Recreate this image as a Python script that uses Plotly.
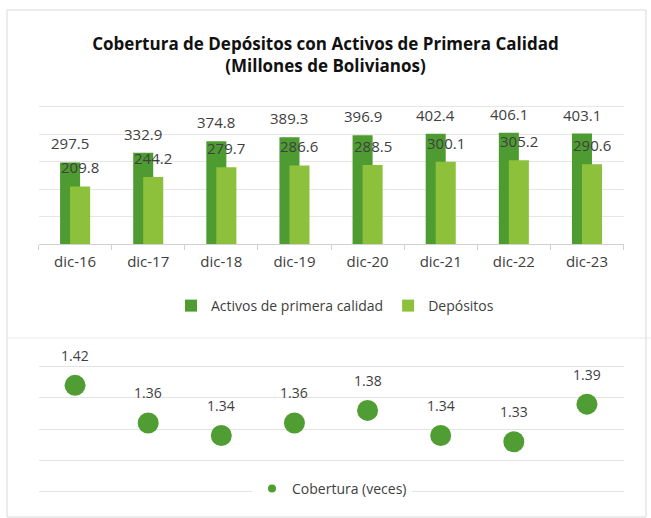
import plotly.graph_objects as go

categories = ['dic-16', 'dic-17', 'dic-18', 'dic-19', 'dic-20', 'dic-21', 'dic-22', 'dic-23']
activos = [297.5, 332.9, 374.8, 389.3, 396.9, 402.4, 406.1, 403.1]
depositos = [209.8, 244.2, 279.7, 286.6, 288.5, 300.1, 305.2, 290.6]
cobertura = [1.42, 1.36, 1.34, 1.36, 1.38, 1.34, 1.33, 1.39]
bar_ticks = [0, 100, 200, 300, 400, 500]
cob_ticks = [1.25, 1.30, 1.35, 1.40, 1.45]

W, H = 651, 518
DARK = '#4E9C31'
LIGHT = '#8DC13C'
DOT = '#4F9D33'
FONT = 'Open Sans'

def px(x):
    return x / W

def py(y):
    return 1 - y / H

fig = go.Figure()

fig.add_trace(go.Bar(
    x=categories, y=activos, name='Activos de primera calidad',
    marker=dict(color=DARK, line=dict(width=0)),
    width=0.274, offset=-0.205, xaxis='x', yaxis='y', legend='legend',
    hoverinfo='skip'))
fig.add_trace(go.Bar(
    x=categories, y=depositos, name='Depósitos',
    marker=dict(color=LIGHT, line=dict(width=0)),
    width=0.274, offset=-0.068, xaxis='x', yaxis='y', legend='legend',
    hoverinfo='skip'))

fig.add_trace(go.Scatter(
    x=categories, y=cobertura, mode='markers', name='Cobertura (veces)',
    marker=dict(color=DOT, size=21, line=dict(width=0)),
    xaxis='x2', yaxis='y2', showlegend=False, hoverinfo='skip'))
# legend entry with a small dot, as in the reference
fig.add_trace(go.Scatter(
    x=[None], y=[None], mode='markers', name='Cobertura (veces)',
    marker=dict(color=DOT, size=8), xaxis='x2', yaxis='y2', legend='legend2'))

annotations = []
for c, a, d in zip(categories, activos, depositos):
    annotations.append(dict(x=c, y=a, xref='x', yref='y', text=f'{a:.1f}', showarrow=False,
                            xshift=-5, yshift=19, yanchor='middle',
                            font=dict(family=FONT, size=15, color='#404040')))
    annotations.append(dict(x=c, y=d, xref='x', yref='y', text=f'{d:.1f}', showarrow=False,
                            xshift=5, yshift=19, yanchor='middle',
                            font=dict(family=FONT, size=15, color='#404040')))
for c, v in zip(categories, cobertura):
    annotations.append(dict(x=c, y=v, xref='x2', yref='y2', text=f'{v:.2f}', showarrow=False,
                            yshift=30, yanchor='middle',
                            font=dict(family=FONT, size=14, color='#404040')))

xdom = [px(38.5), px(623.5)]

fig.update_layout(
    width=W, height=H, autosize=False,
    margin=dict(l=0, r=0, t=0, b=0),
    paper_bgcolor='white', plot_bgcolor='white',
    barmode='overlay',
    font=dict(family=FONT, color='#404040'),
    title=dict(text='<b>Cobertura de Depósitos con Activos de Primera Calidad<br>(Millones de Bolivianos)</b>',
               x=0.5, xanchor='center', y=py(50), yanchor='middle',
               font=dict(family=FONT, size=17, color='#111111')),
    xaxis=dict(domain=xdom, anchor='y', type='category', range=[-0.5, 7.5],
               showgrid=False, showline=True, linecolor='#D0D0D0', linewidth=1,
               ticks='outside', tickson='boundaries', ticklen=5, tickcolor='#D0D0D0',
               tickfont=dict(family=FONT, size=15, color='#404040'), ticklabelstandoff=4),
    yaxis=dict(domain=[py(244), py(105.6)], anchor='x', range=[0, 505],
               tickmode='array', tickvals=bar_ticks,
               showticklabels=False, showgrid=True, gridcolor='#E6E6E6', gridwidth=1,
               zeroline=False, showline=False),
    xaxis2=dict(domain=xdom, anchor='y2', type='category', range=[-0.5, 7.5],
                showgrid=False, showline=False, showticklabels=False, ticks=''),
    yaxis2=dict(domain=[py(495.1), py(363.4)], anchor='x2', range=[1.245, 1.455],
                tickmode='array', tickvals=cob_ticks,
                showticklabels=False, showgrid=True, gridcolor='#E3E3E3', gridwidth=1,
                zeroline=False, showline=False),
    legend=dict(orientation='h', x=px(335), xanchor='center', y=py(306), yanchor='middle',
                font=dict(family=FONT, size=14, color='#404040'), bgcolor='rgba(0,0,0,0)',
                itemwidth=30, traceorder='normal'),
    legend2=dict(orientation='h', x=px(332), xanchor='center', y=py(489), yanchor='middle',
                 font=dict(family=FONT, size=14, color='#404040'), bgcolor='white',
                 itemwidth=30),
    annotations=annotations,
    shapes=[
        dict(type='rect', xref='paper', yref='paper', x0=px(7), x1=px(646), y0=py(517), y1=py(10),
             line=dict(color='#D9D9D9', width=1), fillcolor='rgba(0,0,0,0)', layer='below'),
        dict(type='line', xref='paper', yref='paper', x0=px(8), x1=1, y0=py(338), y1=py(338),
             line=dict(color='#E8E8E8', width=1), layer='below'),
    ],
)

fig.write_html('out.html', include_plotlyjs=True, config={'displayModeBar': False},
               post_script="document.body.style.margin='0';")
